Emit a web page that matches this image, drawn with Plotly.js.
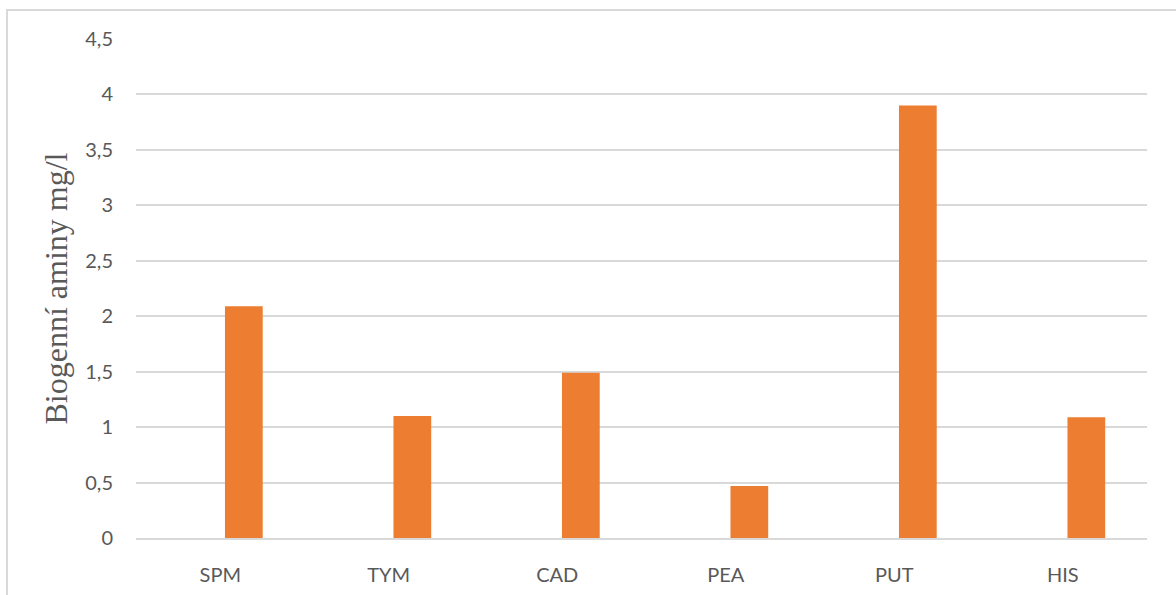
<!DOCTYPE html>
<html>
<head>
<meta charset="utf-8">
<script src="https://cdn.plot.ly/plotly-3.0.1.min.js"></script>
<style>
  html, body { margin: 0; padding: 0; background: #fff; overflow: hidden; }
  #frame { position: absolute; left: 6px; top: 9px; width: 1300px; height: 700px;
           border: 2px solid #d9d9d9; box-sizing: border-box; }
  #chart { position: absolute; left: 0; top: 0; width: 1176px; height: 595px; }
</style>
</head>
<body>
<div id="frame"></div>
<div id="chart"></div>
<script>
// Biogenic amine concentrations (mg/l)
const categories = ['SPM', 'TYM', 'CAD', 'PEA', 'PUT', 'HIS'];
const values = [2.09, 1.10, 1.49, 0.47, 3.90, 1.09];
const yTicks = [0, 0.5, 1, 1.5, 2, 2.5, 3, 3.5, 4, 4.5];
const yTickLabels = ['0', '0,5', '1', '1,5', '2', '2,5', '3', '3,5', '4', '4,5'];

const trace = {
  type: 'bar',
  x: categories,
  y: values,
  marker: { color: '#ED7D31' },
  width: 0.224,
  offset: 0.028,
  hoverinfo: 'x+y'
};

const layout = {
  width: 1176,
  height: 595,
  margin: { l: 136, r: 29, t: 39, b: 57 },
  paper_bgcolor: 'rgba(0,0,0,0)',
  plot_bgcolor: 'rgba(0,0,0,0)',
  showlegend: false,
  font: { family: 'Lato, "Open Sans", sans-serif', color: '#595959', size: 20 },
  xaxis: {
    type: 'category',
    showgrid: false,
    showline: true,
    linecolor: '#d9d9d9',
    linewidth: 2,
    ticks: '',
    ticklabelstandoff: 18,
    tickfont: { size: 20, color: '#595959' },
    fixedrange: true
  },
  yaxis: {
    range: [0, 4.5],
    tickvals: yTicks,
    ticktext: yTickLabels,
    showgrid: true,
    gridcolor: '#d9d9d9',
    gridwidth: 2,
    zeroline: false,
    showline: false,
    ticks: '',
    ticklabelstandoff: 22,
    tickfont: { size: 20, color: '#595959' },
    title: {
      text: 'Biogenní aminy mg/l',
      font: { family: '"Liberation Serif", "Times New Roman", serif', size: 32, color: '#595959' },
      standoff: 8
    },
    automargin: false,
    fixedrange: true
  }
};

Plotly.newPlot('chart', [trace], layout, { displayModeBar: false, staticPlot: true });
</script>
</body>
</html>
